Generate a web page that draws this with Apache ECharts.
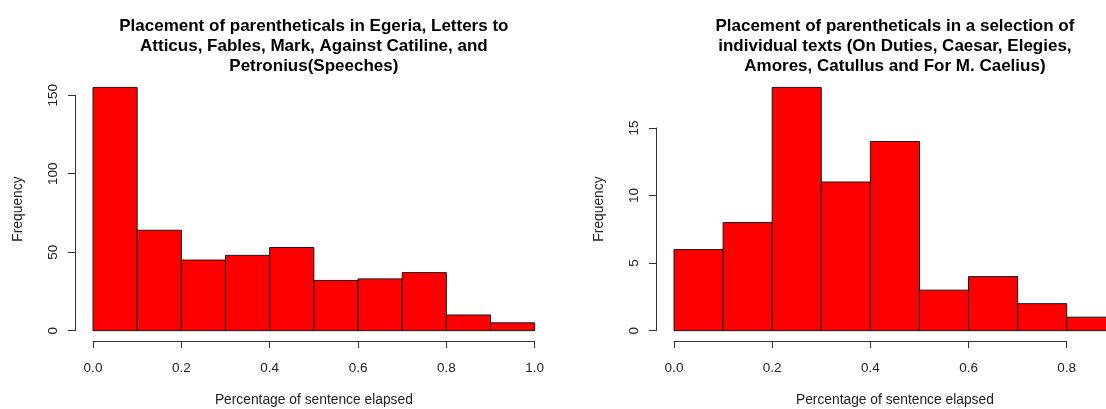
<!DOCTYPE html>
<html>
<head>
<meta charset="utf-8">
<script src="https://cdn.jsdelivr.net/npm/echarts@6/dist/echarts.min.js"></script>
<style>
html,body{margin:0;padding:0;background:#fff;}
#chart{width:1106px;height:409px;}
</style>
</head>
<body>
<div id="chart"></div>
<script>
// ---- data ----
const titleLeft = "Placement of parentheticals in Egeria, Letters to\nAtticus, Fables, Mark, Against Catiline, and\nPetronius(Speeches)";
const titleRight = "Placement of parentheticals in a selection of\nindividual texts (On Duties, Caesar, Elegies,\nAmores, Catullus and For M. Caelius)";
const xLabel = "Percentage of sentence elapsed";
const yLabel = "Frequency";
const breaksLeft = [0, 0.1, 0.2, 0.3, 0.4, 0.5, 0.6, 0.7, 0.8, 0.9, 1.0];
const countsLeft = [155, 64, 45, 48, 53, 32, 33, 37, 10, 5];
const breaksRight = [0, 0.1, 0.2, 0.3, 0.4, 0.5, 0.6, 0.7, 0.8, 0.9];
const countsRight = [6, 8, 18, 11, 14, 3, 4, 2, 1];

// ---- helpers ----
const FONT = "'Liberation Sans', Arial, sans-serif";
const AX = '#333';
const TXT = '#222';
const CANVAS_W = 1106;

function histData(breaks, counts) {
  return counts.map((c, i) => [breaks[i], breaks[i + 1], c]);
}
function renderBar(params, api) {
  const p0 = api.coord([api.value(0), api.value(2)]);
  const p1 = api.coord([api.value(1), 0]);
  return {
    type: 'rect',
    shape: { x: p0[0], y: p0[1], width: p1[0] - p0[0], height: p1[1] - p0[1] },
    style: { fill: '#ff0000', stroke: '#1a1a1a', lineWidth: 1 }
  };
}

// layout (R-like plot regions with 4% axis extension)
const plotTop = 77.7, plotBottom = 340.4, axisLineY = 341;
function panel(opts) {
  const xr = opts.xmaxData;
  const ext = 0.04 * xr;
  const plotLeft = opts.x0px - ext * opts.pxPerUnit;
  const fullWidth = (xr + 2 * ext) * opts.pxPerUnit;
  const plotWidth = Math.min(fullWidth, CANVAS_W - plotLeft);   // figure is cropped at the right edge
  const xMin = -ext;
  const xMax = xMin + plotWidth / opts.pxPerUnit;
  const yExt = 0.04 * opts.ymaxData;
  const plotH = plotBottom - plotTop;
  const yPer = plotH / (opts.ymaxData + 2 * yExt);
  const y0px = plotBottom - yExt * yPer;
  const yTopTick = y0px - opts.yTickMax * yPer;
  return {
    grids: [
      { left: plotLeft, top: plotTop, width: plotWidth, height: plotH },
      { left: opts.x0px, top: plotTop, width: opts.xAxisMax * opts.pxPerUnit, height: axisLineY - plotTop },
      { left: Math.floor(plotLeft), top: yTopTick, width: 100, height: y0px - yTopTick }
    ],
    center: plotLeft + fullWidth / 2,
    xMin, xMax, yExt, ymax: opts.ymaxData
  };
}

const P = [
  panel({ x0px: 93, pxPerUnit: 441.7, xmaxData: 1.0, xAxisMax: 1.0, ymaxData: 155, yTickMax: 150 }),
  panel({ x0px: 674, pxPerUnit: 490.9, xmaxData: 0.9, xAxisMax: 0.8, ymaxData: 18, yTickMax: 15 })
];
const yIntervals = [50, 5];
const xAxisMaxes = [1.0, 0.8];
const yTickMaxes = [150, 15];
const series = [histData(breaksLeft, countsLeft), histData(breaksRight, countsRight)];
const titles = [titleLeft, titleRight];

const option = { animation: false, backgroundColor: '#fff', grid: [], xAxis: [], yAxis: [], series: [], title: [] };

P.forEach((p, k) => {
  const g = option.grid.length;
  p.grids.forEach(gr => option.grid.push(Object.assign({ containLabel: false }, gr)));
  option.title.push({
    text: titles[k], left: p.center, top: 16, textAlign: 'center', padding: 0,
    textStyle: { fontFamily: FONT, fontSize: 17, fontWeight: 'bold', color: '#000', lineHeight: 20 }
  });
  // plot grid axes (hidden lines, carry names)
  option.xAxis.push({
    type: 'value', gridIndex: g, min: p.xMin, max: p.xMax,
    axisLine: { show: false }, axisTick: { show: false }, axisLabel: { show: false }, splitLine: { show: false }
  });
  option.yAxis.push({
    type: 'value', gridIndex: g, min: -p.yExt, max: p.ymax + p.yExt,
    axisLine: { show: false }, axisTick: { show: false }, axisLabel: { show: false }, splitLine: { show: false },
    name: yLabel, nameLocation: 'middle', nameGap: 50,
    nameTextStyle: { fontFamily: FONT, fontSize: 13.8, color: TXT }
  });
  // x axis grid
  option.xAxis.push({
    type: 'value', gridIndex: g + 1, min: 0, max: xAxisMaxes[k], interval: 0.2,
    axisLine: { show: true, lineStyle: { color: AX, width: 1 } },
    axisTick: { show: true, inside: false, length: 7, lineStyle: { color: AX, width: 1 } },
    axisLabel: { show: true, margin: 20, fontFamily: FONT, fontSize: 13.5, color: TXT, formatter: v => v.toFixed(1) },
    splitLine: { show: false }
  });
  option.yAxis.push({ type: 'value', gridIndex: g + 1, show: false });
  // y axis grid
  option.xAxis.push({ type: 'value', gridIndex: g + 2, show: false });
  option.yAxis.push({
    type: 'value', gridIndex: g + 2, min: 0, max: yTickMaxes[k], interval: yIntervals[k],
    axisLine: { show: true, lineStyle: { color: AX, width: 1 } },
    axisTick: { show: true, inside: false, length: 7, lineStyle: { color: AX, width: 1 } },
    axisLabel: { show: true, rotate: 90, margin: 15, fontFamily: FONT, fontSize: 13.5, color: TXT },
    splitLine: { show: false }
  });
  option.series.push({
    type: 'custom', xAxisIndex: g, yAxisIndex: g, renderItem: renderBar,
    encode: { x: [0, 1], y: 2 }, data: series[k], clip: false
  });
});

// x-axis titles, centred on the (uncropped) plot regions
option.graphic = P.map(p => ({
  type: 'text', x: p.center, y: 400, silent: true,
  style: { text: xLabel, fontFamily: FONT, fontSize: 13.8, fill: TXT, align: 'center', verticalAlign: 'middle' }
}));

const chart = echarts.init(document.getElementById('chart'), null, { renderer: 'canvas' });
chart.setOption(option);
</script>
</body>
</html>
